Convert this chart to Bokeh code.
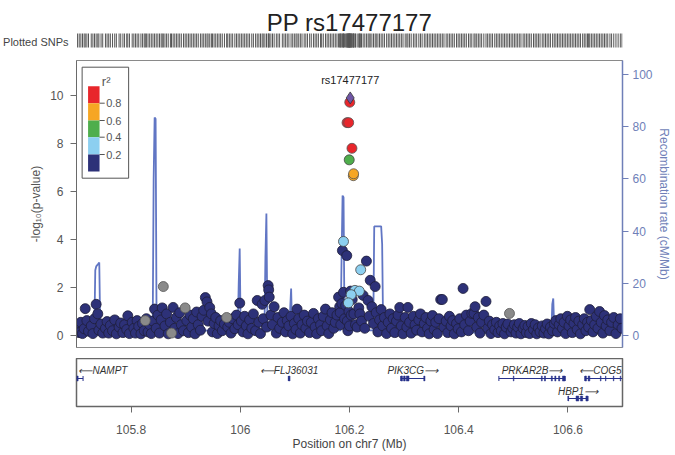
from bokeh.plotting import figure
from bokeh.models import Range1d, LinearAxis, FixedTicker
from bokeh.layouts import column
from bokeh.embed import file_html
from bokeh.resources import INLINE
from bokeh.core.properties import value

FONT = value("Liberation Sans")

TITLE = "PP rs17477177"
LEAD_NAME = "rs17477177"
X_START, X_END = 105.7, 106.7
Y_START, Y_END = -0.5, 11.46
REC_START, REC_END = -4.6, 105.38

x_ticks = [105.8, 106.0, 106.2, 106.4, 106.6]
x_tick_labels = ["105.8", "106", "106.2", "106.4", "106.6"]
y_ticks = [0, 2, 4, 6, 8, 10]
rec_ticks = [0, 20, 40, 60, 80, 100]

# ---- SNPs with r2 < 0.2 (navy) ----
navy_pos = [
    105.702, 105.705, 105.708, 105.711, 105.714, 105.716, 105.719, 105.722,
    105.727, 105.730, 105.733, 105.736, 105.739, 105.741, 105.745, 105.748,
    105.753, 105.756, 105.759, 105.762, 105.766, 105.770, 105.773,
    105.778, 105.781, 105.785, 105.788, 105.792, 105.794, 105.797,
    105.802, 105.805, 105.808, 105.811, 105.814, 105.818, 105.821, 105.824,
    105.828, 105.831, 105.834, 105.837, 105.840, 105.843, 105.846, 105.849,
    105.852, 105.855, 105.857, 105.862, 105.865, 105.868, 105.872,
    105.877, 105.880, 105.883, 105.886, 105.889, 105.892, 105.896,
    105.902, 105.905, 105.908, 105.911, 105.914, 105.917, 105.920, 105.923,
    105.927, 105.930, 105.933, 105.936, 105.939, 105.941, 105.944, 105.947, 105.949,
    105.952, 105.955, 105.958, 105.961, 105.964, 105.967, 105.971,
    105.977, 105.980, 105.983, 105.986, 105.990, 105.993, 105.996, 105.999,
    106.002, 106.005, 106.008, 106.011, 106.014, 106.017, 106.021, 106.024,
    106.028, 106.031, 106.034, 106.037, 106.040, 106.042, 106.045, 106.048,
    106.051, 106.052, 106.053, 106.056, 106.059, 106.062, 106.066, 106.069, 106.072,
    106.077, 106.080, 106.083, 106.086, 106.089, 106.093, 106.096, 106.099,
    106.102, 106.104, 106.107, 106.110, 106.113, 106.117, 106.120, 106.123,
    106.127, 106.130, 106.134, 106.137, 106.140, 106.143, 106.147, 106.149,
    106.152, 106.156, 106.159, 106.162, 106.165, 106.168, 106.171, 106.174,
    106.177, 106.180, 106.182, 106.183, 106.184, 106.186, 106.187, 106.189, 106.191,
    106.193, 106.195, 106.196, 106.197, 106.199, 106.200, 106.202, 106.203,
    106.205, 106.208, 106.211, 106.214, 106.217, 106.219, 106.222, 106.225,
    106.228, 106.231, 106.234, 106.236, 106.238, 106.241, 106.244, 106.247, 106.249,
    106.252, 106.255, 106.258, 106.261, 106.264, 106.268, 106.271, 106.274,
    106.277, 106.280, 106.283, 106.286, 106.289, 106.292, 106.295, 106.298,
    106.302, 106.305, 106.307, 106.310, 106.313, 106.317, 106.320, 106.323,
    106.327, 106.330, 106.333, 106.337, 106.340, 106.343, 106.346, 106.349,
    106.352, 106.355, 106.358, 106.361, 106.364, 106.367, 106.370, 106.373,
    106.377, 106.380, 106.383, 106.386, 106.389, 106.392, 106.396, 106.399,
    106.402, 106.405, 106.408, 106.411, 106.414, 106.418, 106.421, 106.424,
    106.428, 106.430, 106.433, 106.436, 106.439, 106.442, 106.446, 106.450,
    106.453, 106.456, 106.459, 106.462, 106.466, 106.469, 106.472, 106.475,
    106.478, 106.481, 106.484, 106.487, 106.490, 106.496, 106.499,
    106.502, 106.505, 106.508, 106.511, 106.514, 106.518, 106.521, 106.524,
    106.527, 106.530, 106.533, 106.537, 106.540, 106.543, 106.546, 106.549,
    106.553, 106.556, 106.559, 106.562, 106.565, 106.568, 106.572, 106.575,
    106.578, 106.581, 106.584, 106.587, 106.590, 106.593, 106.596, 106.599,
    106.602, 106.605, 106.608, 106.611, 106.614, 106.617, 106.620, 106.623,
    106.627, 106.630, 106.633, 106.636, 106.638, 106.640, 106.643, 106.646, 106.649,
    106.652, 106.655, 106.658, 106.661, 106.664, 106.667, 106.670, 106.673,
    106.677, 106.680, 106.684, 106.688, 106.692, 106.696, 106.699,
]
navy_logp = [
    0.35, 0.12, 0.55, 0.08, 0.28, 1.12, 0.62, 0.18,
    0.40, 0.08, 0.70, 1.30, 0.90, 0.22, 0.48, 0.10,
    0.30, 0.58, 0.10, 0.42, 0.20, 0.65, 0.07,
    0.35, 0.52, 0.12, 0.45, 0.25, 0.82, 0.08,
    0.55, 0.30, 0.10, 0.62, 0.38, 0.07, 0.50, 0.20,
    0.70, 0.15, 0.45, 0.08, 0.60, 1.10, 0.30, 0.85,
    0.10, 0.65, 1.15, 0.40, 0.90, 0.07, 0.55,
    1.17, 0.30, 0.75, 0.08, 0.95, 0.45, 0.20,
    0.62, 0.12, 0.85, 0.35, 0.70, 0.07, 0.98, 0.45,
    0.22, 0.80, 1.05, 1.58, 1.40, 0.60, 1.17, 0.90, 0.15,
    0.50, 0.75, 0.08, 0.40, 0.62, 0.20, 0.48,
    0.35, 0.55, 0.10, 0.70, 0.28, 0.85, 0.45, 1.35,
    0.60, 0.15, 0.80, 0.40, 0.07, 0.65, 0.30, 0.90,
    0.20, 1.46, 0.55, 0.08, 1.30, 0.70, 1.46, 0.35,
    2.08, 1.90, 1.60, 0.85, 0.45, 1.20, 0.10, 0.75, 0.30,
    0.55, 0.95, 0.15, 0.62, 0.40, 0.80, 0.07, 0.50,
    0.25, 1.10, 0.70, 0.10, 0.45, 0.85, 0.30, 0.60,
    0.12, 0.55, 0.92, 0.35, 0.07, 0.70, 0.45, 0.20,
    0.80, 1.10, 0.40, 0.08, 0.65, 0.95, 0.30, 0.55,
    0.85, 1.60, 1.20, 0.95, 0.45, 1.33, 3.54, 1.80, 0.70,
    1.25, 3.33, 0.60, 0.20, 1.00, 0.40, 1.85, 0.85,
    1.50, 0.90, 0.45, 0.35, 1.15, 0.90, 0.60, 1.67,
    0.30, 3.10, 1.46, 0.80, 2.30, 1.20, 0.50, 2.04, 0.95,
    0.15, 0.65, 1.08, 0.40, 0.75, 0.08, 0.55, 0.90,
    0.30, 0.70, 0.12, 0.60, 0.85, 1.17, 0.40, 0.07,
    0.75, 0.35, 1.17, 0.55, 0.10, 0.80, 0.45, 0.22,
    0.65, 0.90, 0.15, 0.50, 0.75, 0.30, 0.07, 0.60,
    0.83, 0.25, 0.55, 0.08, 0.70, 1.50, 1.50, 0.35,
    0.60, 0.12, 0.80, 0.40, 0.62, 0.07, 0.50, 0.28,
    0.70, 0.15, 1.96, 0.45, 0.85, 0.20, 0.60, 0.92,
    0.92, 1.20, 0.35, 0.75, 0.10, 0.55, 0.85, 1.42,
    0.30, 0.60, 0.08, 0.45, 0.25, 0.55, 0.12, 0.40,
    0.20, 0.50, 0.07, 0.35, 0.48, 0.15, 0.30,
    0.45, 0.10, 0.35, 0.50, 0.07, 0.30, 0.42, 0.12,
    0.38, 0.08, 0.50, 0.25, 0.45, 0.07, 0.32, 0.15,
    0.40, 0.10, 0.28, 0.48, 0.07, 0.35, 0.20, 0.50,
    0.62, 0.15, 0.45, 0.70, 0.30, 0.55, 0.08, 0.80,
    0.40, 0.65, 0.12, 0.50, 0.75, 0.25, 0.60, 0.07,
    0.45, 0.70, 0.20, 0.55, 0.35, 1.08, 0.62, 0.15, 0.45,
    0.80, 0.30, 1.00, 0.55, 0.10, 0.83, 0.40, 0.65,
    0.20, 0.55, 0.75, 0.08, 0.45, 0.70, 0.30,
]

# ---- SNPs with no r2 (grey) ----
grey_pos = [105.826, 105.859, 105.874, 105.899, 105.975, 106.493]
grey_logp = [0.62, 2.04, 0.10, 1.15, 0.75, 0.92]

# ---- 0.2 <= r2 < 0.4 ----
ltblue_pos = [106.189, 106.2205, 106.210, 106.218, 106.203, 106.198]
ltblue_logp = [3.92, 2.74, 1.88, 1.85, 1.70, 1.36]
# ---- 0.4 <= r2 < 0.6 ----
green_pos = [106.1995]
green_logp = [7.32]
# ---- 0.6 <= r2 < 0.8 ----
orange_pos = [106.2070, 106.2075]
orange_logp = [6.66, 6.74]
# ---- r2 >= 0.8 ----
red_pos = [106.1955, 106.1985, 106.2045, 106.2005]
red_logp = [8.87, 8.87, 7.80, 9.72]
# ---- lead SNP ----
lead_pos = [106.2013]
lead_logp = [9.90]

# ---- recombination rate (cM/Mb) ----
rec_pos = [105.700, 105.7272, 105.7326, 105.7344, 105.7362, 105.7399, 105.7417, 105.7435,
           105.7906, 105.8033, 105.8395, 105.8413, 105.8431, 105.8449, 105.8467, 105.8630,
           105.9355, 105.9446, 105.9953, 105.9971, 105.9989, 106.0007, 106.0442, 106.0460,
           106.0478, 106.0496, 106.0514, 106.0895, 106.0913, 106.0931, 106.0949, 106.1040,
           106.1293, 106.1348, 106.1837, 106.1855, 106.1873, 106.1891, 106.1909, 106.2435,
           106.2453, 106.2471, 106.2580, 106.2598, 106.2616, 106.2978, 106.3884, 106.4609,
           106.5696, 106.5714, 106.5732, 106.5750, 106.6601, 106.7000]
rec_rate = [1.5, 1.0, 1.5, 25.0, 26.5, 27.5, 28.0, 2.0,
            1.0, 0.6, 0.8, 60.0, 83.5, 83.0, 2.0, 1.5,
            2.0, 1.8, 2.0, 20.0, 33.3, 2.0, 2.0, 30.0,
            46.7, 5.0, 2.0, 1.5, 10.0, 18.0, 2.0, 0.6,
            0.8, 2.0, 2.0, 30.0, 53.6, 53.0, 2.0, 2.0,
            41.8, 41.8, 41.8, 35.0, 3.0, 2.0, 1.5, 0.8,
            0.8, 12.0, 14.2, 2.0, 2.0, 4.0]

# ---- genes ----
gene_name = ["NAMPT", "FLJ36031", "PIK3CG", "PRKAR2B", "HBP1", "COG5"]
gene_start = [105.670, 106.088, 106.294, 106.4736, 106.6004, 106.6312]
gene_end = [105.712, 106.0905, 106.3377, 106.5949, 106.6366, 106.780]
gene_strand = ["-", "-", "+", "+", "+", "-"]
gene_row = [0, 0, 0, 0, 1, 0]
exon_start = [105.7005, 106.0885, 106.2942, 106.2990, 106.3040, 106.3360,
              106.5000, 106.5514, 106.5570, 106.5696, 106.5760, 106.5830, 106.5900,
              106.6004, 106.6149, 106.6230, 106.6330,
              106.6312, 106.6370, 106.6595, 106.6688, 106.6832, 106.6958]
exon_end = [105.7030, 106.0905, 106.2970, 106.3020, 106.3090, 106.3377,
            106.5012, 106.5530, 106.5590, 106.5715, 106.5780, 106.5850, 106.5949,
            106.6014, 106.6200, 106.6270, 106.6366,
            106.6340, 106.6402, 106.6607, 106.6697, 106.6842, 106.6968]
exon_row = [0, 0, 0, 0, 0, 0,
            0, 0, 0, 0, 0, 0, 0,
            1, 1, 1, 1,
            0, 0, 0, 0, 0, 0]

r2_labels = ["0.8", "0.6", "0.4", "0.2"]
r2_colors = ["#e8262b", "#f6a623", "#4fae4c", "#8ccff0", "#2d3178"]

NAVY = "#2d3178"
GREY_COL = "#8a8a8a"
PURPLE = "#6f55a5"
REC_COL = "#6176c4"
REC_AXIS = "#6f7fb8"
AX_GREY = "#6a6a6a"
TXT = "#555555"
GENE_COL = "#27318b"
OUT_COL = "#1e1e3a"

FRAME_W = 552
LEFT_B = 70
RIGHT_B = 53
TOTAL_W = LEFT_B + FRAME_W + RIGHT_B
HEAD_H = 60
MAIN_FH = 287
kx = (X_END - X_START) / FRAME_W

shared_x = Range1d(X_START, X_END)

# ================= header =================
h = figure(width=TOTAL_W, height=HEAD_H, x_range=shared_x, y_range=Range1d(HEAD_H, 0),
           output_backend="svg", toolbar_location=None, x_axis_location=None,
           min_border_left=LEFT_B, min_border_right=RIGHT_B, min_border_top=0, min_border_bottom=0)
h.outline_line_color = None
h.grid.visible = False
hy = h.yaxis[0]
hy.ticker = FixedTicker(ticks=[41])
hy.major_label_overrides = {41: "Plotted SNPs"}
hy.major_label_text_font = "Liberation Sans"
hy.major_label_text_font_size = "11px"
hy.major_label_text_color = "#444444"
hy.major_label_standoff = 2
hy.axis_line_color = None
hy.major_tick_line_color = None
hy.minor_tick_line_color = None
h.text(x=[(X_START + X_END) / 2], y=[22], text=[TITLE], text_align="center",
       text_baseline="alphabetic", text_font=FONT, text_font_size="24px", text_color="#222222")
all_pos = sorted(navy_pos + grey_pos + ltblue_pos + green_pos + orange_pos + red_pos + lead_pos)
h.segment(x0=all_pos, x1=all_pos, y0=[33] * len(all_pos), y1=[47] * len(all_pos),
          line_color="#555555", line_width=1)

# ================= main plot =================
p = figure(width=TOTAL_W, height=MAIN_FH + 11, x_range=shared_x,
           y_range=Range1d(Y_START, Y_END), output_backend="svg", toolbar_location=None,
           x_axis_location=None, min_border_left=LEFT_B, min_border_right=RIGHT_B,
           min_border_top=0, min_border_bottom=11)
p.grid.visible = False
p.outline_line_color = "#8a8a8a"
p.outline_line_width = 1

ya = p.yaxis[0]
ya.ticker = FixedTicker(ticks=y_ticks)
ya.axis_label = "-log\u2081\u2080(p-value)"
ya.axis_label_text_font = "Liberation Sans"
ya.axis_label_text_font_size = "12px"
ya.axis_label_text_font_style = "normal"
ya.axis_label_text_color = TXT
ya.axis_label_standoff = 4
ya.major_label_text_font = "Liberation Sans"
ya.major_label_text_font_size = "12px"
ya.major_label_text_color = TXT
ya.major_label_standoff = 7
ya.axis_line_color = AX_GREY
ya.major_tick_line_color = AX_GREY
ya.major_tick_out = 6
ya.major_tick_in = 0
ya.minor_tick_line_color = None

p.extra_y_ranges = {"recomb": Range1d(REC_START, REC_END)}
ra = LinearAxis(y_range_name="recomb", ticker=FixedTicker(ticks=rec_ticks),
                axis_label="Recombination rate (cM/Mb)")
ra.axis_label_text_font = "Liberation Sans"
ra.axis_label_text_font_size = "12px"
ra.axis_label_text_font_style = "normal"
ra.axis_label_text_color = REC_AXIS
ra.axis_label_standoff = 1
ra.major_label_text_font = "Liberation Sans"
ra.major_label_text_font_size = "12px"
ra.major_label_text_color = REC_AXIS
ra.major_label_standoff = 4
ra.axis_line_color = REC_AXIS
ra.axis_line_width = 1.5
ra.major_tick_line_color = REC_AXIS
ra.major_tick_out = 6
ra.major_tick_in = 0
ra.minor_tick_line_color = None
p.add_layout(ra, "right")

# recombination line behind points
p.line(rec_pos, rec_rate, y_range_name="recomb", line_color=REC_COL, line_width=1.8)

SZ = 10
p.scatter(navy_pos, navy_logp, size=SZ, fill_color=NAVY, line_color=OUT_COL, line_width=0.8)
p.scatter(grey_pos, grey_logp, size=SZ, fill_color=GREY_COL, line_color="#555555", line_width=0.8)
p.scatter(ltblue_pos, ltblue_logp, size=SZ, fill_color=r2_colors[3], line_color="#444444", line_width=0.8)
p.scatter(green_pos, green_logp, size=SZ, fill_color=r2_colors[2], line_color="#444444", line_width=0.8)
p.scatter(orange_pos, orange_logp, size=SZ, fill_color=r2_colors[1], line_color="#555555", line_width=0.8)
p.scatter(red_pos, red_logp, size=SZ, fill_color=r2_colors[0], line_color="#555555", line_width=0.8)
p.scatter(lead_pos, lead_logp, size=12, marker="diamond", fill_color=PURPLE,
          line_color="#333333", line_width=0.8)
p.text(x=lead_pos, y=[lead_logp[0] + 0.75], text=[LEAD_NAME], text_align="center",
       text_baseline="middle", text_font=FONT, text_font_size="11px", text_color="#222222")

# legend (positions given in screen pixels from frame top-left, converted to data)
ky = (Y_END - Y_START) / MAIN_FH
def dx(px):
    return X_START + px * kx
def dy(py):
    return Y_END - py * ky

p.quad(left=[dx(5.7)], right=[dx(52.7)], top=[dy(6.7)], bottom=[dy(117.7)],
       fill_color="white", line_color="#555555", line_width=1)
p.text(x=[dx(30)], y=[dy(21)], text=["r\u00b2"], text_align="center",
       text_baseline="alphabetic", text_font=FONT, text_font_size="13px", text_color=TXT)
bounds = [25.7, 42.7, 60.0, 76.7, 94.0, 111.0]
p.quad(left=[dx(11.7)] * 5, right=[dx(23.3)] * 5,
       top=[dy(b) for b in bounds[:-1]], bottom=[dy(b) for b in bounds[1:]],
       fill_color=r2_colors, line_color=None)
p.segment(x0=[dx(23.3)] * 4, x1=[dx(28.5)] * 4, y0=[dy(b) for b in bounds[1:5]],
          y1=[dy(b) for b in bounds[1:5]], line_color=TXT, line_width=1)
p.text(x=[dx(30)] * 4, y=[dy(b) for b in bounds[1:5]], text=r2_labels, text_align="left",
       text_baseline="middle", text_font=FONT, text_font_size="11px", text_color=TXT)

# ================= gene track =================
g = figure(width=TOTAL_W, height=97, x_range=shared_x, y_range=Range1d(48, 0),
           output_backend="svg", toolbar_location=None, y_axis_location=None,
           min_border_left=LEFT_B, min_border_right=RIGHT_B, min_border_top=0, min_border_bottom=49)
g.grid.visible = False
g.outline_line_color = "#666666"
g.outline_line_width = 1.5

row_line_y = [20, 40]
row_text_y = [12, 33]

gl_x0 = [max(s, X_START) for s in gene_start]
gl_x1 = [min(e, X_END) for e in gene_end]
gy = [row_line_y[r] for r in gene_row]
g.segment(x0=gl_x0, x1=gl_x1, y0=gy, y1=gy, line_color=GENE_COL, line_width=1)
cap_x = [s for s in gene_start if s >= X_START] + [e for e in gene_end if e <= X_END]
cap_y = [row_line_y[r] for s, r in zip(gene_start, gene_row) if s >= X_START] + \
        [row_line_y[r] for e, r in zip(gene_end, gene_row) if e <= X_END]
g.segment(x0=cap_x, x1=cap_x, y0=[y - 2.5 for y in cap_y], y1=[y + 2.5 for y in cap_y],
          line_color=GENE_COL, line_width=1)
ey = [row_line_y[r] for r in exon_row]
g.quad(left=exon_start, right=exon_end, top=[y - 2.5 for y in ey], bottom=[y + 2.5 for y in ey],
       fill_color=GENE_COL, line_color=GENE_COL, line_width=0.5)

for name, s, e, strand, r in zip(gene_name, gene_start, gene_end, gene_strand, gene_row):
    label = ("\u27f5" + name) if strand == "-" else (name + "\u27f6")
    if s < X_START:
        lx, al = X_START + 2 * kx, "left"
    elif e > X_END:
        lx, al = X_END - 1 * kx, "right"
    else:
        lx, al = (s + e) / 2, "center"
    g.text(x=[lx], y=[row_text_y[r]], text=[label], text_align=al, text_baseline="middle",
           text_font=FONT, text_font_size="10px", text_font_style="italic", text_color="#333333")

xa = g.xaxis[0]
xa.ticker = FixedTicker(ticks=x_ticks)
xa.major_label_overrides = {t: l for t, l in zip(x_ticks, x_tick_labels)}
xa.axis_label = "Position on chr7 (Mb)"
xa.axis_label_text_font = "Liberation Sans"
xa.axis_label_text_font_size = "12px"
xa.axis_label_text_font_style = "normal"
xa.axis_label_text_color = "#444444"
xa.axis_label_standoff = 0
xa.major_label_text_font = "Liberation Sans"
xa.major_label_text_font_size = "12px"
xa.major_label_text_color = TXT
xa.major_label_standoff = 12
xa.axis_line_color = None
xa.major_tick_line_color = AX_GREY
xa.major_tick_out = 6
xa.major_tick_in = 0
xa.minor_tick_line_color = None

layout = column(h, p, g, spacing=0)
open("out.html", "w").write(file_html(layout, INLINE))
